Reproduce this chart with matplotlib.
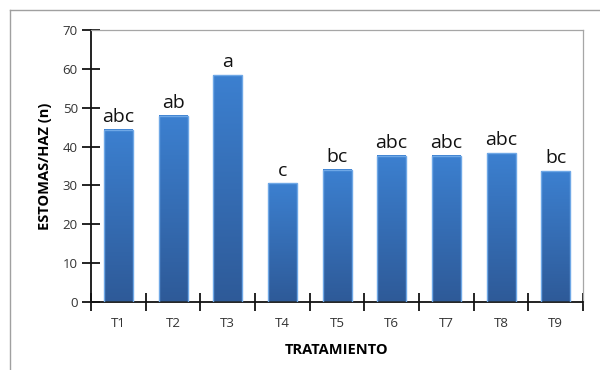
import numpy as np
import matplotlib
matplotlib.use('Agg')
import matplotlib.pyplot as plt
from matplotlib.colors import LinearSegmentedColormap
from matplotlib.lines import Line2D

# values
treatments = ['T1', 'T2', 'T3', 'T4', 'T5', 'T6', 'T7', 'T8', 'T9']
stomata = [44.3, 47.9, 58.4, 30.5, 34.0, 37.6, 37.6, 38.3, 33.7]
letters = ['abc', 'ab', 'a', 'c', 'bc', 'abc', 'abc', 'abc', 'bc']

plt.rcParams['font.family'] = ['Open Sans', 'DejaVu Sans']

fig = plt.figure(figsize=(6, 3.7), dpi=100)
ax = fig.add_axes([0.1517, 0.1838, 0.82, 0.7351])

x = np.arange(len(treatments))
bars = ax.bar(x, stomata, width=0.53, color='none', edgecolor='#6FA8E6',
              linewidth=1.0, zorder=3)

# vertical gradient inside every bar (light on top, dark at bottom)
cmap = LinearSegmentedColormap.from_list('blu', ['#2E5A98', '#3C80D0'])
grad = np.linspace(0, 1, 256).reshape(-1, 1)
for b in bars:
    x0, w, h = b.get_x(), b.get_width(), b.get_height()
    ax.imshow(grad, extent=[x0, x0 + w, 0, h], origin='lower', cmap=cmap,
              aspect='auto', zorder=2)

for xi, v, lab in zip(x, stomata, letters):
    ax.text(xi, v + 1.0, lab, ha='center', va='bottom', fontsize=14,
            color='#111111')

ax.set_xlim(-0.5, len(treatments) - 0.5)
ax.set_ylim(0, 70)
ax.set_yticks(range(0, 71, 10))
ax.set_xticks(x)
ax.set_xticklabels(treatments)
ax.set_xticks(np.arange(-0.5, len(treatments)), minor=True)

ax.tick_params(axis='y', direction='inout', length=13, width=1.2,
               labelsize=9.5, labelcolor='#333333', pad=3)
ax.tick_params(axis='x', which='major', length=0, labelsize=9.5,
               labelcolor='#333333', pad=11)
ax.tick_params(axis='x', which='minor', direction='inout', length=13,
               width=1.2)

for s in ['left', 'bottom']:
    ax.spines[s].set_linewidth(1.3)
    ax.spines[s].set_color('#111111')
for s in ['top', 'right']:
    ax.spines[s].set_linewidth(0.9)
    ax.spines[s].set_color('#A6A6A6')

ax.set_ylabel('ESTOMAS/HAZ (n)', fontsize=10.5, fontweight='bold', labelpad=8)
ax.set_xlabel('TRATAMIENTO', fontsize=10.5, fontweight='bold', labelpad=9)

# outer chart frame (top and left edges)
fig.add_artist(Line2D([10 / 600, 1], [1 - 10 / 370, 1 - 10 / 370],
                      color='#A0A0A0', lw=1.0, transform=fig.transFigure))
fig.add_artist(Line2D([10 / 600, 10 / 600], [0, 1 - 10 / 370],
                      color='#A0A0A0', lw=1.0, transform=fig.transFigure))

fig.savefig('out.png', dpi=100)
